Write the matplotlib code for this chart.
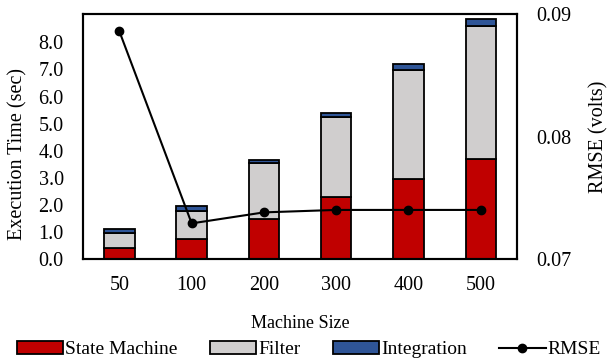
import numpy as np
import matplotlib.pyplot as plt

plt.rcParams['font.family'] = ['Liberation Serif', 'DejaVu Serif']
plt.rcParams['font.size'] = 13

sizes = ["50", "100", "200", "300", "400", "500"]
state_machine = [0.40, 0.75, 1.48, 2.27, 2.96, 3.70]
filter_time = [0.55, 1.00, 2.06, 2.96, 4.01, 4.90]
integration = [0.15, 0.20, 0.10, 0.18, 0.22, 0.28]
rmse = [0.0886, 0.0729, 0.0738, 0.0740, 0.0740, 0.0740]

red = '#C00000'
gray = '#D0CECE'
blue = '#2F5597'

fig, ax = plt.subplots(figsize=(6.08, 3.58), dpi=100)
fig.subplots_adjust(left=0.137, right=0.85, top=0.96, bottom=0.277)

x = np.arange(len(sizes))
w = 0.42
sm = np.array(state_machine)
fl = np.array(filter_time)
b1 = ax.bar(x, sm, w, color=red, edgecolor='black', linewidth=1.3, label='State Machine')
b2 = ax.bar(x, fl, w, bottom=sm, color=gray, edgecolor='black', linewidth=1.3, label='Filter')
b3 = ax.bar(x, integration, w, bottom=sm + fl, color=blue, edgecolor='black', linewidth=1.3,
            label='Integration')

ax.set_xlim(-0.5, len(sizes) - 0.5)
ax.set_ylim(0, 9.04)
ax.set_yticks(np.arange(0, 9, 1.0))
ax.set_yticklabels(["%.1f" % v for v in np.arange(0, 9, 1.0)])
ax.set_xticks(x)
ax.set_xticklabels(sizes)
ax.tick_params(length=0, labelsize=14.5)
ax.tick_params(axis='x', pad=12)
ax.tick_params(axis='y', pad=14)
ax.set_ylabel("Execution Time (sec)", fontsize=14.5)
ax.yaxis.set_label_coords(-0.128, 0.43)
ax.set_xlabel("Machine Size", labelpad=15)
for s in ax.spines.values():
    s.set_linewidth(1.5)

# RMSE on the secondary axis
ax2 = ax.twinx()
ln, = ax2.plot(x, rmse, '-o', color='black', linewidth=1.5, markersize=6, label='RMSE')
ax2.set_ylim(0.07, 0.09)
ax2.set_yticks([0.07, 0.08, 0.09])
ax2.set_yticklabels(["0.07", "0.08", "0.09"])
ax2.tick_params(length=0, pad=14, labelsize=14.5)
ax2.set_ylabel("RMSE (volts)", labelpad=13, fontsize=14.5)
for s in ax2.spines.values():
    s.set_linewidth(1.5)

fig.legend([b1, b2, b3, ln], ['State Machine', 'Filter', 'Integration', 'RMSE'],
           loc='lower center', ncol=4, frameon=False, bbox_to_anchor=(0.508, -0.05),
           fontsize=14, handlelength=2.4, handletextpad=0.1, columnspacing=1.65,
           handleheight=0.62)

fig.savefig('out.png', dpi=100)
